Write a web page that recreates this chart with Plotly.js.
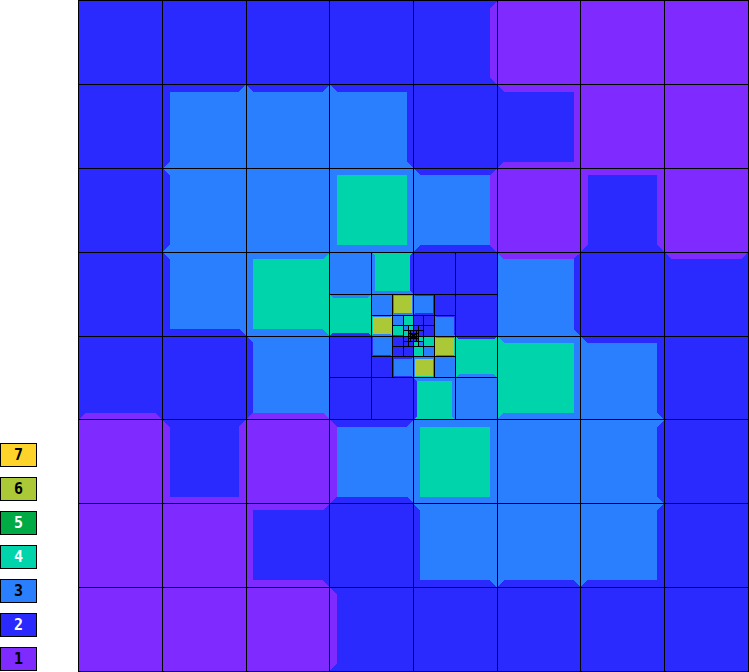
<!DOCTYPE html>
<html>
<head>
<meta charset="utf-8">
<script src="https://cdn.plot.ly/plotly-3.0.1.min.js"></script>
<style>html,body{margin:0;padding:0;background:#fff;}</style>
</head>
<body>
<div id="chart" style="width:749px;height:672px;"></div>
<script>
// ---- DATA ----
// level values 1..7 and their colours / label text colours
const legendLabels = ['1','2','3','4','5','6','7'];
const legendColors = ['#7f2aff','#2a2aff','#2a7fff','#00d4aa','#00aa44','#abc837','#ffd42a'];
const legendTextColors = ['#000','#fff','#000','#fff','#fff','#000','#000'];

// coarse 8x8 mesh (rows top to bottom); null = refined further
const topValues = [
  [2,2,2,2,2,1,1,1],
  [2,3,3,3,2,2,1,1],
  [2,3,3,4,3,1,2,1],
  [2,3,4,null,null,3,2,2],
  [2,2,3,null,null,4,3,2],
  [1,2,1,3,4,3,3,2],
  [1,1,2,2,3,3,3,2],
  [1,1,1,2,2,2,2,2]
];
// successive 4x4 refinements around the centre (null = refined further)
const level1 = [[3,4,2,2],[4,null,null,2],[2,null,null,4],[2,2,4,3]];
const level2 = [[3,6,3,2],[6,null,null,3],[3,null,null,6],[2,3,6,3]];
const level3 = [[3,4,2,2],[4,null,null,2],[2,null,null,4],[2,2,4,3]];
const level4 = [[3,4,2,2],[4,null,null,2],[2,null,null,4],[2,2,4,3]];
const level5 = [[2,2,2,2],[2,null,null,2],[2,null,null,2],[2,2,2,2]];
const level6 = [[2,2,2,2],[2,2,2,2],[2,2,2,2],[2,2,2,2]];
const refinements = [level1, level2, level3, level4, level5, level6];

// ---- build the leaf cells of the mesh ----
const DOMAIN = topValues.length;
const cells = [];
topValues.forEach((row, r) => row.forEach((v, c) => {
  if (v !== null) cells.push({x0: c, y0: r, s: 1, v: v});
}));
refinements.forEach((grid, k) => {
  const s = Math.pow(0.5, k + 1);
  const origin = DOMAIN / 2 - 2 * s;
  grid.forEach((row, i) => row.forEach((v, j) => {
    if (v !== null) cells.push({x0: origin + j * s, y0: origin + i * s, s: s, v: v});
  }));
});

function cellAt(x, y) {
  for (const c of cells) {
    if (x >= c.x0 && x < c.x0 + c.s && y >= c.y0 && y < c.y0 + c.s) return c;
  }
  return null;
}

const EPS = 1e-7, NS = 32;
function edgeMin(own, pts, vertical) {
  let m = own.v;
  pts.forEach(p => {
    const n = cellAt(p[0], p[1]);
    if (!n) return;
    if (vertical && n.s < own.s) return;
    if (n.v < m) m = n.v;
  });
  return m;
}

const baseX = {}, baseY = {}, stripX = {}, stripY = {};
for (let v = 1; v <= 7; v++) { baseX[v] = []; baseY[v] = []; stripX[v] = []; stripY[v] = []; }
function addPoly(X, Y, pts) {
  pts.forEach(p => { X.push(p[0]); Y.push(p[1]); });
  X.push(pts[0][0]); Y.push(pts[0][1]);
  X.push(null); Y.push(null);
}

const gridX = [], gridY = [];
cells.forEach(c => {
  const x0 = c.x0, y0 = c.y0, x1 = c.x0 + c.s, y1 = c.y0 + c.s, d = c.s / 12;
  addPoly(baseX[c.v], baseY[c.v], [[x0,y0],[x1,y0],[x1,y1],[x0,y1]]);
  const samp = (f) => { const a = []; for (let k = 0; k < NS; k++) a.push(f((k + 0.5) / NS)); return a; };
  const edges = [
    {vertical: false, pts: samp(t => [x0 + t * c.s, y0 - EPS]), poly: [[x0,y0],[x1,y0],[x1-d,y0+d],[x0+d,y0+d]]},
    {vertical: false, pts: samp(t => [x0 + t * c.s, y1 + EPS]), poly: [[x0,y1],[x1,y1],[x1-d,y1-d],[x0+d,y1-d]]},
    {vertical: true, pts: samp(t => [x0 - EPS, y0 + t * c.s]), poly: [[x0,y0],[x0+d,y0+d],[x0+d,y1-d],[x0,y1]]},
    {vertical: true, pts: samp(t => [x1 + EPS, y0 + t * c.s]), poly: [[x1,y0],[x1-d,y0+d],[x1-d,y1-d],[x1,y1]]}
  ];
  edges.forEach(e => {
    const m = edgeMin(c, e.pts, e.vertical);
    if (m !== c.v) addPoly(stripX[m], stripY[m], e.poly);
  });
  // mesh lines (domain border is drawn by the axis frame)
  if (y0 > 0) { gridX.push(x0, x1, null); gridY.push(y0, y0, null); }
  if (y1 < DOMAIN) { gridX.push(x0, x1, null); gridY.push(y1, y1, null); }
  if (x0 > 0) { gridX.push(x0, x0, null); gridY.push(y0, y1, null); }
  if (x1 < DOMAIN) { gridX.push(x1, x1, null); gridY.push(y0, y1, null); }
});

const traces = [];
for (let v = 7; v >= 1; v--) {
  if (baseX[v].length) traces.push({type:'scatter', mode:'lines', x: baseX[v], y: baseY[v], fill:'toself',
    fillcolor: legendColors[v-1], line:{width:0, color: legendColors[v-1]}, hoverinfo:'skip', showlegend:false});
}
for (let v = 7; v >= 1; v--) {
  if (stripX[v].length) traces.push({type:'scatter', mode:'lines', x: stripX[v], y: stripY[v], fill:'toself',
    fillcolor: legendColors[v-1], line:{width:0, color: legendColors[v-1]}, hoverinfo:'skip', showlegend:false});
}
traces.push({type:'scatter', mode:'lines', x: gridX, y: gridY, line:{color:'#000', width:1},
  hoverinfo:'skip', showlegend:false});

// ---- legend boxes as annotations ----
const M = {l: 79, r: 1, t: 1, b: 1};
const W = 749, H = 672;
const pw = W - M.l - M.r, ph = H - M.t - M.b;
const px2paper = px => (px - M.l) / pw;
const py2paper = py => (H - M.b - py) / ph;
const annotations = legendLabels.map((lab, i) => ({
  xref: 'paper', yref: 'paper', x: px2paper(0), y: py2paper(647 - 34 * i),
  xanchor: 'left', yanchor: 'top', showarrow: false,
  text: '<b>' + lab + '</b>', width: 35, height: 22, borderpad: 0, borderwidth: 1, bordercolor: '#000',
  bgcolor: legendColors[i], align: 'center', valign: 'middle',
  font: {family: 'DejaVu Sans Mono, monospace', size: 15, color: legendTextColors[i]}
}));

const axisCommon = {showgrid:false, zeroline:false, showticklabels:false, ticks:'',
  showline:true, mirror:true, linecolor:'#000', linewidth:1, fixedrange:true};
const layout = {
  width: W, height: H, margin: {l: M.l, r: M.r, t: M.t, b: M.b, pad: 0},
  paper_bgcolor: '#fff', plot_bgcolor: '#fff', showlegend: false,
  xaxis: Object.assign({range: [0, DOMAIN]}, axisCommon),
  yaxis: Object.assign({range: [DOMAIN, 0]}, axisCommon),
  annotations: annotations
};

Plotly.newPlot('chart', traces, layout, {displayModeBar: false, staticPlot: true}).then(() => {
  document.querySelectorAll('.scatterlayer path').forEach(p => { p.style.shapeRendering = 'crispEdges'; });
});
</script>
</body>
</html>
